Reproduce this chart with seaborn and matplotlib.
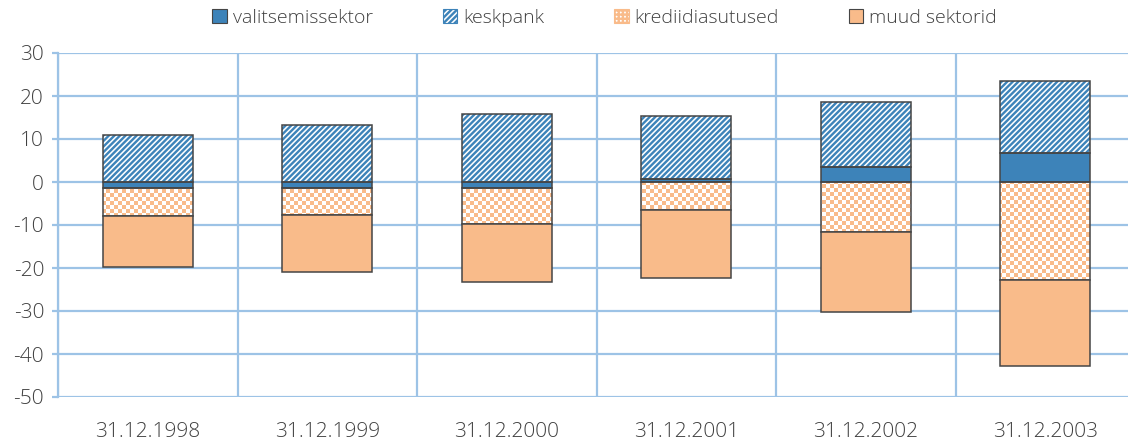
import numpy as np
import pandas as pd
import matplotlib
matplotlib.use("Agg")
import matplotlib.pyplot as plt
from matplotlib.patches import Patch
import seaborn as sns

# data
dates = ['31.12.1998', '31.12.1999', '31.12.2000', '31.12.2001', '31.12.2002', '31.12.2003']
valitsemissektor = [-1.5, -1.4, -1.5, 0.8, 3.5, 6.8]
keskpank = [11.0, 13.3, 15.9, 14.5, 15.0, 16.7]
krediidiasutused = [-6.5, -6.2, -8.3, -6.5, -11.7, -22.8]
muud_sektorid = [-11.7, -13.3, -13.4, -15.8, -18.5, -19.9]
series_names = ['valitsemissektor', 'keskpank', 'krediidiasutused', 'muud sektorid']
y_ticks = [-50, -40, -30, -20, -10, 0, 10, 20, 30]

BLUE = '#3D83B9'
ORANGE = '#F9BB8A'
GRID = '#9DC3E6'
EDGE = '#454545'
TEXT = '#404040'

sns.set_theme(style='white')
plt.rcParams['font.family'] = ['Open Sans', 'DejaVu Sans']
plt.rcParams['font.weight'] = 'light'
plt.rcParams['axes.unicode_minus'] = False
plt.rcParams['hatch.linewidth'] = 1.7

W, H = 1128, 442
fig = plt.figure(figsize=(W / 100, H / 100), dpi=100)
# plot area runs a little past the right edge in the reference; keep the axes
# inside the figure and trim the x range instead
ax_px = (58, 45, 1070, 344)
cat_px = 179.5
x_right = -0.5 + ax_px[2] / cat_px
ax = fig.add_axes([ax_px[0] / W, ax_px[1] / H, ax_px[2] / W, ax_px[3] / H])

# stack positives and negatives separately, like a spreadsheet stacked column
pos_base = np.zeros(len(dates))
neg_base = np.zeros(len(dates))
bars = {}
for name, vals in zip(series_names, [valitsemissektor, keskpank, krediidiasutused, muud_sektorid]):
    vals = np.asarray(vals, dtype=float)
    bottom = np.where(vals >= 0, pos_base, neg_base)
    sub = pd.DataFrame({'date': dates, 'value': vals})
    if name == 'keskpank':
        # blue diagonal stripes on white, then a dark outline on top
        sns.barplot(data=sub, x='date', y='value', order=dates, width=0.5,
                    bottom=bottom, color='white', facecolor='white', edgecolor=BLUE,
                    hatch='//////', linewidth=0, errorbar=None, ax=ax, zorder=2.6)
        face = 'none'
    elif name == 'valitsemissektor':
        face = BLUE
    elif name == 'muud sektorid':
        face = ORANGE
    else:
        face = 'none'
    n_before = len(ax.patches)
    sns.barplot(data=sub, x='date', y='value', order=dates, width=0.5,
                bottom=bottom, color=BLUE, facecolor=face, edgecolor=EDGE,
                linewidth=1.1, errorbar=None, ax=ax, zorder=3)
    bars[name] = ax.patches[n_before:]
    pos_base += np.where(vals >= 0, vals, 0)
    neg_base += np.where(vals < 0, vals, 0)

# grid and axes styling (ticks first: set_ticks can widen the view limits)
ax.set_axisbelow(True)
ax.set_yticks(y_ticks)
ax.set_xticks(np.arange(-0.5, len(dates) - 1, 1), minor=True)
ax.set_xlim(-0.5, x_right)
ax.set_ylim(y_ticks[0], y_ticks[-1])

# checkerboard texture for krediidiasutused, one screen pixel per image pixel
rows, cols = np.mgrid[0:ax_px[3], 0:ax_px[2]]
white = np.array([1.0, 1.0, 1.0])
orange_rgb = np.array(matplotlib.colors.to_rgb(ORANGE))
checker_mask = ((rows // 4 + cols // 4) % 2) == 0
checker = np.where(checker_mask[..., None], orange_rgb, white)
extent = (-0.5, x_right, y_ticks[0], y_ticks[-1])
for patch in bars['krediidiasutused']:
    im = ax.imshow(checker, extent=extent, origin='upper', aspect='auto',
                   interpolation='nearest', zorder=2.5)
    im.set_clip_path(patch)
ax.set_xlim(-0.5, x_right)
ax.set_ylim(y_ticks[0], y_ticks[-1])

ax.yaxis.grid(True, color=GRID, linewidth=1.6)
ax.xaxis.grid(True, which='minor', color=GRID, linewidth=1.6)
ax.xaxis.grid(False, which='major')
for side in ['top', 'right', 'bottom']:
    ax.spines[side].set_visible(False)
ax.spines['left'].set_color(GRID)
ax.spines['left'].set_linewidth(1.6)
ax.tick_params(axis='y', which='major', left=True, length=4, width=1.6, color=GRID,
               labelsize=15, labelcolor=TEXT, pad=6)
ax.tick_params(axis='x', which='both', length=0, labelsize=15, labelcolor=TEXT, pad=18)
ax.set_xlabel('')
ax.set_ylabel('')
ax.set_facecolor('white')

handles = [
    Patch(facecolor=BLUE, edgecolor=EDGE, linewidth=0.8, label=series_names[0]),
    Patch(facecolor='white', edgecolor=BLUE, hatch='//////', linewidth=0.8, label=series_names[1]),
    Patch(facecolor='white', edgecolor=ORANGE, hatch='++++', linewidth=0.8, label=series_names[2]),
    Patch(facecolor=ORANGE, edgecolor=EDGE, linewidth=0.8, label=series_names[3]),
]
fig.legend(handles=handles, loc='center', bbox_to_anchor=(0.536, 1 - 18 / H), ncol=4,
           frameon=False, fontsize=14, labelcolor=TEXT, handlelength=0.75,
           handleheight=0.75, handletextpad=0.3, columnspacing=3.6)

fig.savefig('out.png', dpi=100, facecolor='white')
